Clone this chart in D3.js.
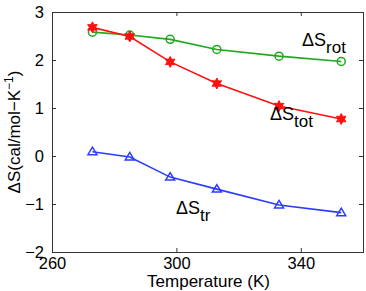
<!DOCTYPE html>
<html>
<head>
<meta charset="utf-8">
<script src="https://cdn.jsdelivr.net/npm/d3@7"></script>
<style>
    body { margin: 0; background: #fff; }
    text { font-family: "Liberation Sans", Arial, sans-serif; fill: #000; }
</style>
</head>
<body>
<svg id="chart" width="366" height="291"></svg>
<script>
// temperatures (K)
const temps = [273, 285, 298, 313, 333, 353];
// entropy terms, cal/mol-K
const sRot = [2.58, 2.52, 2.43, 2.22, 2.08, 1.97];
const sTot = [2.68, 2.49, 1.96, 1.51, 1.04, 0.77];
const sTr = [0.09, -0.02, -0.44, -0.69, -1.02, -1.18];
const xTicks = [260, 300, 340];
const yTicks = [-2, -1, 0, 1, 2, 3];

let margin = {top: 12, right: 3, bottom: 39, left: 52},
    width = 366 - margin.left - margin.right,
    height = 291 - margin.top - margin.bottom;

let svg = d3.select("#chart");
let chart = svg.append("g")
    .attr("transform", "translate(" + margin.left + "," + margin.top + ")");

let x = d3.scaleLinear().domain([260, 360]).range([0, width]);
let y = d3.scaleLinear().domain([-2, 3]).range([height, 0]);

let fmt = d => d < 0 ? "\u2212" + Math.abs(d) : String(d);

// axes, ticks pointing inwards on all four sides
chart.append("g")
    .attr("transform", "translate(0," + height + ")")
    .call(d3.axisBottom(x).tickValues(xTicks).tickSize(-4).tickPadding(5).tickFormat(fmt));
chart.append("g")
    .call(d3.axisTop(x).tickValues(xTicks).tickSize(-4).tickFormat(""));
chart.append("g")
    .call(d3.axisLeft(y).tickValues(yTicks).tickSize(-4).tickPadding(8).tickFormat(fmt));
chart.append("g")
    .attr("transform", "translate(" + width + ",0)")
    .call(d3.axisRight(y).tickValues(yTicks).tickSize(-4).tickFormat(""));

chart.selectAll(".domain").attr("stroke", "#333").attr("stroke-width", 1);
chart.selectAll(".tick line").attr("stroke", "#333");
chart.selectAll(".tick text").style("font-size", "16.5px").style("font-family", "Liberation Sans, Arial, sans-serif");

let line = d3.line()
    .x((d, i) => x(temps[i]))
    .y(d => y(d));

function hexagram(r) {
    let p = d3.path();
    for (let k = 0; k < 12; k++) {
        let a = -Math.PI / 2 + k * Math.PI / 6;
        let rr = k % 2 == 0 ? r : r * 0.55;
        if (k == 0) p.moveTo(rr * Math.cos(a), rr * Math.sin(a));
        else p.lineTo(rr * Math.cos(a), rr * Math.sin(a));
    }
    p.closePath();
    return p.toString();
}

let series = [
    {values: sRot, color: "#1fa81f", marker: "circle"},
    {values: sTot, color: "#ff1010", marker: "star"},
    {values: sTr, color: "#2b3cff", marker: "triangle"}
];

series.forEach(function (s) {
    chart.append("path")
        .datum(s.values)
        .attr("d", line)
        .attr("fill", "none")
        .attr("stroke", s.color)
        .attr("stroke-width", 1.6);

    let pts = chart.selectAll(null)
        .data(s.values)
        .enter().append("g")
        .attr("transform", function (d, i) {
            return "translate(" + x(temps[i]) + "," + y(d) + ")";
        });

    if (s.marker == "circle") {
        pts.append("circle").attr("r", 4)
            .attr("fill", "none").attr("stroke", s.color).attr("stroke-width", 1.5);
    } else if (s.marker == "star") {
        pts.append("path").attr("d", hexagram(5.5))
            .attr("fill", s.color).attr("stroke", s.color).attr("stroke-width", 1);
    } else {
        pts.append("path").attr("d", "M0,-4.5L4.5,3L-4.5,3Z")
            .attr("fill", "none").attr("stroke", s.color).attr("stroke-width", 1.5);
    }
});

// series labels
function seriesLabel(tx, ty, sub) {
    let t = svg.append("text")
        .attr("x", tx).attr("y", ty)
        .style("font-size", "18px");
    t.append("tspan").text("\u0394S");
    t.append("tspan").attr("dy", 7).style("font-size", "17px").text(sub);
}
seriesLabel(302, 46, "rot");
seriesLabel(270, 120, "tot");
seriesLabel(176, 214, "tr");

// axis titles
svg.append("text")
    .attr("x", margin.left + width / 2 + 1)
    .attr("y", 287)
    .attr("text-anchor", "middle")
    .style("font-size", "17px")
    .text("Temperature (K)");

let yl = svg.append("text")
    .attr("transform", "translate(20," + (margin.top + height / 2) + ") rotate(-90)")
    .attr("text-anchor", "middle")
    .style("font-size", "17px");
yl.append("tspan").text("\u0394S(cal/mol\u2212K");
yl.append("tspan").attr("dy", -7).style("font-size", "12px").text("\u22121");
yl.append("tspan").attr("dy", 7).text(")");
</script>
</body>
</html>
